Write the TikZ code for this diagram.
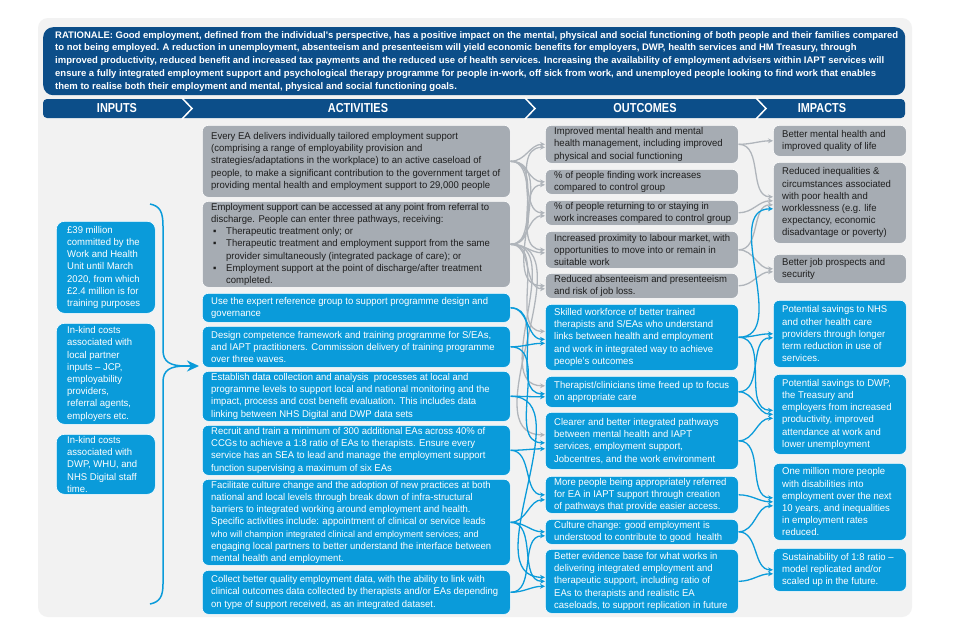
\documentclass[tikz,border=0pt]{standalone}
\usepackage{fontspec}
\setmainfont[FakeStretch=0.97]{Liberation Sans}
\newfontfamily\hdrfont[FakeStretch=0.84]{Liberation Sans}
\newfontfamily\ratfont{Liberation Sans}
\usetikzlibrary{arrows.meta,calc}
\definecolor{navy}{RGB}{12,78,137}
\definecolor{brightblue}{RGB}{10,155,218}
\definecolor{boxgrey}{RGB}{166,172,179}
\definecolor{arrowgrey}{RGB}{176,181,187}
\definecolor{panelgrey}{RGB}{242,242,242}
\definecolor{textdark}{RGB}{30,30,30}
\tikzset{
  box/.style={rounded corners=6pt, anchor=north west, inner sep=0pt, draw=white, line width=0.6pt},
  gbox/.style={box, fill=boxgrey},
  bbox/.style={box, fill=brightblue},
  ibox/.style={bbox, rounded corners=8pt},
  txt/.style={anchor=west, align=left, inner sep=0pt, xshift=9pt, font=\fontsize{9.8}{12.2}\selectfont},
  gtext/.style={txt, text=textdark},
  btext/.style={txt, text=white},
  itext/.style={btext, xshift=2pt},
  hdr/.style={text=white, font=\hdrfont\bfseries\fontsize{13}{13}\selectfont, inner sep=0pt},
  garrow/.style={draw=arrowgrey, line width=1.3pt, -{Stealth[length=5pt,width=5pt]}},
  barrow/.style={draw=brightblue, line width=1.3pt, -{Stealth[length=5pt,width=5pt]}},
  flow/.style={out=0, in=180}
}
\newcommand{\bul}{\makebox[15pt][l]{\hspace*{2pt}▪}}
\newcommand{\ind}{\hspace*{15pt}}
% #1 box style, #2 text style, #3 name, #4 x, #5 y, #6 width, #7 height, #8 text
\newcommand{\bx}[8]{%
  \node[#1, minimum width=#6pt, minimum height=#7pt] (#3) at (#4,#5) {};
  \node[#2] (#3t) at (#3.west) {#8};
}
\begin{document}
\begin{tikzpicture}[x=1pt,y=-1pt]
\useasboundingbox (0,0) rectangle (960,640);
\fill[white] (0,0) rectangle (960,640);
\fill[panelgrey, rounded corners=10pt] (38,18) rectangle (912,617);

% rationale
\node[anchor=north west, fill=navy, rounded corners=10pt, minimum width=862pt, minimum height=68pt, inner sep=0pt] (rat) at (43,27) {};
\node[anchor=west, text=white, align=left, inner sep=0pt, xshift=12pt, font=\ratfont\bfseries\fontsize{9.5}{12.75}\selectfont] (ratt) at (rat.west)
{RATIONALE: Good employment, defined from the individual's perspective, has a positive impact on the mental, physical and social functioning of both people and their families compared\\
to not being employed. A reduction in unemployment, absenteeism and presenteeism will yield economic benefits for employers, DWP, health services and HM Treasury, through\\
improved productivity, reduced benefit and increased tax payments and the reduced use of health services. Increasing the availability of employment advisers within IAPT services will\\
ensure a fully integrated employment support and psychological therapy programme for people in-work, off sick from work, and unemployed people looking to find work that enables\\
them to realise both their employment and mental, physical and social functioning goals.};

% header bar
\fill[navy, rounded corners=4pt] (43,99) rectangle (905,118);
\draw[white, line width=1.5pt] (182,98) -- (192,108.5) -- (182,119);
\draw[white, line width=1.5pt] (525,98) -- (535,108.5) -- (525,119);
\draw[white, line width=1.5pt] (756,98) -- (766,108.5) -- (756,119);
\node[hdr] (hin) at (117,108.5) {INPUTS};
\node[hdr] (hact) at (358,108.5) {ACTIVITIES};
\node[hdr] (hout) at (645,108.5) {OUTCOMES};
\node[hdr] (himp) at (822,108.5) {IMPACTS};

% inputs
\bx{ibox}{itext}{i1}{56}{221}{99}{92}
{£39 million\\committed by the\\Work and Health\\Unit until March\\2020, from which\\£2.4 million is for\\training purposes}
\bx{ibox}{itext}{i2}{56}{323}{99}{101}
{In-kind costs\\associated with\\local partner\\inputs – JCP,\\employability\\providers,\\referral agents,\\employers etc.}
\bx{ibox}{itext}{i3}{56}{434}{99}{60}
{In-kind costs\\associated with\\DWP, WHU, and\\NHS Digital staff\\time.}

% activities
\bx{gbox}{gtext}{a1}{202}{125}{308}{72}
{Every EA delivers individually tailored employment support\\(comprising a range of employability provision and\\strategies/adaptations in the workplace) to an active caseload of\\people, to make a significant contribution to the government target of\\providing mental health and employment support to 29,000 people}
\bx{gbox}{gtext}{a2}{202}{201}{308}{86}
{Employment support can be accessed at any point from referral to\\discharge. People can enter three pathways, receiving:\\\bul Therapeutic treatment only; or\\\bul Therapeutic treatment and employment support from the same\\\ind provider simultaneously (integrated package of care); or\\\bul Employment support at the point of discharge/after treatment\\\ind completed.}
\bx{bbox}{btext}{a3}{202}{293}{308}{29}
{Use the expert reference group to support programme design and\\governance}
\bx{bbox}{btext}{a4}{202}{326}{308}{41}
{Design competence framework and training programme for S/EAs,\\and IAPT practitioners. Commission delivery of training programme\\over three waves.}
\bx{bbox}{btext}{a5}{202}{371}{308}{50}
{Establish data collection and analysis\ \ processes at local and\\programme levels to support local and national monitoring and the\\impact, process and cost benefit evaluation. This includes data\\linking between NHS Digital and DWP data sets}
\bx{bbox}{btext}{a6}{202}{425}{308}{50}
{Recruit and train a minimum of 300 additional EAs across 40\% of\\CCGs to achieve a 1:8 ratio of EAs to therapists. Ensure every\\service has an SEA to lead and manage the employment support\\function supervising a maximum of six EAs}
\bx{bbox}{btext}{a7}{202}{479}{308}{86}
{Facilitate culture change and the adoption of new practices at both\\national and local levels through break down of infra-structural\\barriers to integrated working around employment and health.\\Specific activities include: appointment of clinical or service leads\\{\fontsize{9.2}{12.2}\selectfont who will champion integrated clinical and employment services; and}\\engaging local partners to better understand the interface between\\mental health and employment.}
\bx{bbox}{btext}{a8}{202}{570}{308}{44}
{Collect better quality employment data, with the ability to link with\\clinical outcomes data collected by therapists and/or EAs depending\\on type of support received, as an integrated dataset.}

% outcomes
\bx{gbox}{gtext}{o1}{545}{125}{193}{38}
{Improved mental health and mental\\health management, including improved\\physical and social functioning}
\bx{gbox}{gtext}{o2}{545}{169}{193}{25}
{\% of people finding work increases\\compared to control group}
\bx{gbox}{gtext}{o3}{545}{200}{193}{25}
{\% of people returning to or staying in\\work increases compared to control group}
\bx{gbox}{gtext}{o4}{545}{231}{193}{37}
{Increased proximity to labour market, with\\opportunities to move into or remain in\\suitable work}
\bx{gbox}{gtext}{o5}{545}{273}{193}{25}
{Reduced absenteeism and presenteeism\\and risk of job loss.}
\bx{bbox}{btext}{o6}{545}{304}{193}{66}
{Skilled workforce of better trained\\therapists and S/EAs who understand\\links between health and employment\\and work in integrated way to achieve\\people's outcomes}
\bx{bbox}{btext}{o7}{545}{376}{193}{31}
{Therapist/clinicians time freed up to focus\\on appropriate care}
\bx{bbox}{btext}{o8}{545}{412}{193}{57}
{Clearer and better integrated pathways\\between mental health and IAPT\\services, employment support,\\Jobcentres, and the work environment}
\bx{bbox}{btext}{o9}{545}{476}{193}{37}
{More people being appropriately referred\\for EA in IAPT support through creation\\of pathways that provide easier access.}
\bx{bbox}{btext}{o10}{545}{519}{193}{25}
{Culture change: good employment is\\understood to contribute to good\ \ health}
\bx{bbox}{btext}{o11}{545}{549}{193}{64}
{Better evidence base for what works in\\delivering integrated employment and\\therapeutic support, including ratio of\\EAs to therapists and realistic EA\\caseloads, to support replication in future}

% impacts
\bx{gbox}{gtext}{m1}{773}{125}{133}{31}
{Better mental health and\\improved quality of life}
\bx{gbox}{gtext}{m2}{773}{162}{133}{81}
{Reduced inequalities \&\\circumstances associated\\with poor health and\\worklessness (e.g. life\\expectancy, economic\\disadvantage or poverty)}
\bx{gbox}{gtext}{m3}{773}{254}{133}{29}
{Better job prospects and\\security}
\bx{bbox}{btext}{m4}{773}{300}{133}{67}
{Potential savings to NHS\\and other health care\\providers through longer\\term reduction in use of\\services.}
\bx{bbox}{btext}{m5}{773}{374}{133}{80}
{Potential savings to DWP,\\the Treasury and\\employers from increased\\productivity, improved\\attendance at work and\\lower unemployment}
\bx{bbox}{btext}{m6}{773}{463}{133}{77}
{One million more people\\with disabilities into\\employment over the next\\10 years, and inequalities\\in employment rates\\reduced.}
\bx{bbox}{btext}{m7}{773}{548}{133}{43}
{Sustainability of 1:8 ratio –\\model replicated and/or\\scaled up in the future.}

% inputs brace
\coordinate (bt) at (150,204);
\coordinate (bb) at (150,604);
\coordinate (actin) at (199,366);
\draw[brightblue, line width=1.5pt] (bt) .. controls (160,206) and (163,212) .. (163,226) -- (163,350) .. controls (163,362) and (170,366) .. (186,366);
\draw[brightblue, line width=1.5pt] (bb) .. controls (160,602) and (163,596) .. (163,584) -- (163,382) .. controls (163,370) and (170,366) .. (186,366);
\draw[brightblue, line width=1.5pt, -{Stealth[length=12pt,width=11pt]}] (184,366) -- (actin);

% activities -> outcomes (grey)
\foreach \t in {o1,o2,o3,o4,o5}{
  \draw[garrow] (a1.east) to[flow] (\t.west);
}
\foreach \t in {o1,o2,o3,o4,o5}{
  \draw[garrow] (a2.east) to[flow] ($(\t.west)+(0,3)$);
}
\foreach \t in {o6,o7,o8}{
  \draw[garrow] (a2.east) to[flow] ($(\t.west)+(0,-6)$);
}
% activities -> outcomes (blue)
\draw[barrow] (a3.east) to[flow] ($(o6.west)+(0,2)$);
\draw[barrow] (a3.east) to[flow] ($(o7.west)+(0,2)$);
\draw[barrow] (a4.east) to[flow] ($(o6.west)+(0,6)$);
\draw[barrow] (a4.east) to[flow] ($(o8.west)+(0,2)$);
\draw[barrow] (a5.east) to[flow] ($(o7.west)+(0,5)$);
\draw[barrow] (a5.east) to[flow] ($(o11.west)+(0,-4)$);
\draw[barrow] (a6.east) to[flow] ($(o8.west)+(0,8)$);
\draw[barrow] (a6.east) to[flow] (o9.west);
\draw[barrow] (a7.east) to[flow] ($(o9.west)+(0,5)$);
\draw[barrow] (a7.east) to[flow] (o10.west);
\draw[barrow] (a7.east) to[flow] (o11.west);
\draw[barrow] (a8.east) to[flow] ($(o11.west)+(0,5)$);
\draw[barrow] (a8.east) to[flow] ($(o10.west)+(0,4)$);

% outcomes -> impacts (grey)
\draw[garrow] (o1.east) to[flow] (m1.west);
\draw[garrow] (o1.east) to[flow] ($(m2.west)+(0,-6)$);
\draw[garrow] (o3.east) to[flow] ($(m2.west)+(0,-2)$);
\draw[garrow] (o4.east) to[flow] ($(m2.west)+(0,2)$);
\draw[garrow] (o4.east) to[flow] (m3.west);
\draw[garrow] (o5.east) to[flow] ($(m3.west)+(0,3)$);
% outcomes -> impacts (blue)
\draw[barrow] (o6.east) to[flow] ($(m2.west)+(0,6)$);
\draw[barrow] (o6.east) to[flow] (m4.west);
\draw[barrow] (o6.east) to[flow] ($(m5.west)+(0,-4)$);
\draw[barrow] (o7.east) to[flow] ($(m4.west)+(0,4)$);
\draw[barrow] (o7.east) to[flow] (m5.west);
\draw[barrow] (o8.east) to[flow] ($(m5.west)+(0,4)$);
\draw[barrow] (o8.east) to[flow] ($(m6.west)+(0,-4)$);
\draw[barrow] (o9.east) to[flow] (m6.west);
\draw[barrow] (o10.east) to[flow] ($(m6.west)+(0,4)$);
\draw[barrow] (o10.east) to[flow] (m7.west);
\draw[barrow] (o11.east) to[flow] ($(m7.west)+(0,4)$);
\end{tikzpicture}
\end{document}
